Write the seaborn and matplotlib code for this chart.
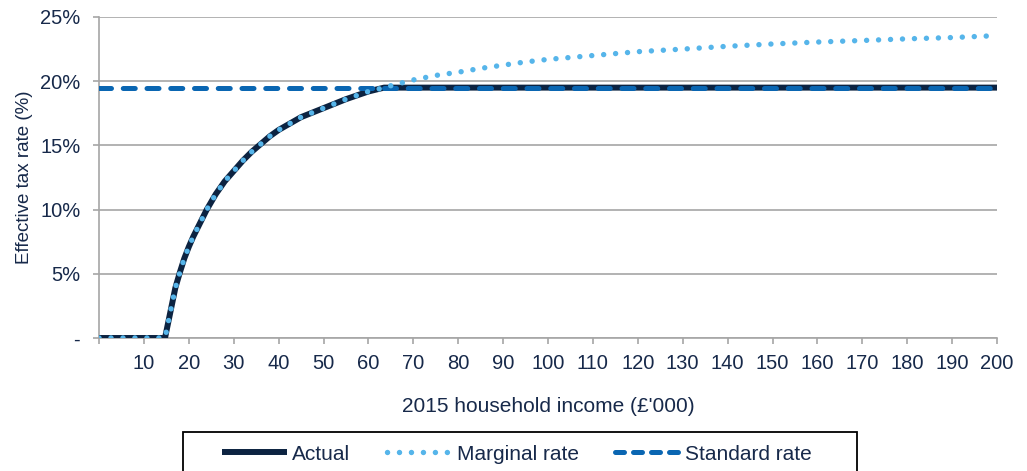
import matplotlib
matplotlib.use("Agg")
import matplotlib.pyplot as plt
from matplotlib.lines import Line2D
from matplotlib.patches import Rectangle
import seaborn as sns
import pandas as pd

# Household income (£'000) at which each rate is given
income = [0, 5, 10, 14.7, 16, 17, 18, 19, 20, 21, 22, 23, 24, 26, 28, 30, 32, 34, 36,
          38, 40, 42, 45, 50, 55, 60, 63.5, 65, 70, 75, 80, 85, 90, 95, 100, 105, 110,
          115, 120, 125, 130, 140, 150, 160, 170, 180, 190, 200]

# Effective tax rate (%) actually paid
actual = [0, 0, 0, 0, 2.2, 3.9, 5.1, 6.2, 7.1, 7.9, 8.6, 9.3, 10.0, 11.2, 12.2, 13.0,
          13.8, 14.5, 15.1, 15.7, 16.2, 16.6, 17.2, 17.9, 18.6, 19.2, 19.5, 19.5, 19.5,
          19.5, 19.5, 19.5, 19.5, 19.5, 19.5, 19.5, 19.5, 19.5, 19.5, 19.5, 19.5, 19.5,
          19.5, 19.5, 19.5, 19.5, 19.5, 19.5]

# Effective tax rate (%) under the marginal-rate schedule
marginal = [0, 0, 0, 0, 2.2, 3.9, 5.1, 6.2, 7.1, 7.9, 8.6, 9.3, 10.0, 11.2, 12.2, 13.0,
            13.8, 14.5, 15.1, 15.7, 16.2, 16.6, 17.2, 17.9, 18.6, 19.2, 19.5, 19.65,
            20.1, 20.45, 20.7, 21.0, 21.25, 21.5, 21.7, 21.85, 22.0, 22.15, 22.3, 22.4,
            22.5, 22.72, 22.9, 23.05, 23.17, 23.3, 23.4, 23.55]

# Flat standard rate (%)
standard = [19.5] * len(income)

series_names = ["Actual", "Marginal rate", "Standard rate"]
x_ticks = list(range(0, 201, 10))
x_tick_labels = [""] + [str(v) for v in range(10, 201, 10)]
y_ticks = [0, 5, 10, 15, 20, 25]
y_tick_labels = ["-", "5%", "10%", "15%", "20%", "25%"]

df = pd.DataFrame({"income": income, "actual": actual,
                   "marginal": marginal, "standard": standard})

sns.set_theme(style="white")
plt.rcParams["font.family"] = ["Liberation Sans", "DejaVu Sans"]

navy = "#0c2341"
light_blue = "#56b5ea"
mid_blue = "#0a66b2"
text_col = "#17294a"
grid_col = "#a6a6a6"

lw_actual, lw_std, lw_marg = 4.3, 3.6, 3.9
dash_std = (0, (2.4, 2.35))
dot_marg = (0, (0.01, 2.2))

fig = plt.figure(figsize=(10.27, 4.71), dpi=100)
ax = fig.add_axes([99 / 1027, 1 - 338 / 471, (997 - 99) / 1027, (338 - 17) / 471])

sns.lineplot(data=df, x="income", y="actual", ax=ax, color=navy, linewidth=lw_actual,
             solid_capstyle="butt", solid_joinstyle="round", zorder=3)
sns.lineplot(data=df, x="income", y="standard", ax=ax, color=mid_blue, linewidth=lw_std,
             linestyle=dash_std, dash_capstyle="round", zorder=4)
sns.lineplot(data=df, x="income", y="marginal", ax=ax, color=light_blue, linewidth=lw_marg,
             linestyle=dot_marg, dash_capstyle="round", zorder=5)

ax.set_xlim(0, 200)
ax.set_ylim(0, 25)
ax.set_xticks(x_ticks)
ax.set_xticklabels(x_tick_labels)
ax.set_yticks(y_ticks)
ax.set_yticklabels(y_tick_labels)

ax.grid(axis="y", color=grid_col, linewidth=1.2)
ax.grid(axis="x", visible=False)
ax.set_axisbelow(True)
for side in ("top", "right"):
    ax.spines[side].set_visible(False)
for side in ("left", "bottom"):
    ax.spines[side].set_color(grid_col)
    ax.spines[side].set_linewidth(1.2)

ax.tick_params(axis="both", which="major", direction="out", length=4.5, width=1.2,
               color=grid_col, labelcolor=text_col, left=True, bottom=True)
ax.tick_params(axis="x", pad=7, labelsize=14.5)
ax.tick_params(axis="y", pad=9, labelsize=14.5)

ax.set_xlabel("2015 household income (£'000)", fontsize=15, color=text_col, labelpad=17)
ax.set_ylabel("Effective tax rate (%)", fontsize=13.5, color=text_col, labelpad=5)

# Legend below the chart, with a black box that runs off the bottom edge
handles = [
    Line2D([], [], color=navy, linewidth=lw_actual, solid_capstyle="butt"),
    Line2D([], [], color=light_blue, linewidth=lw_marg, linestyle=dot_marg,
           dash_capstyle="round"),
    Line2D([], [], color=mid_blue, linewidth=lw_std, linestyle=(0, (1.8, 1.8)),
           dash_capstyle="round"),
]
fig.legend(handles, series_names, loc="center", ncol=3,
           bbox_to_anchor=(517 / 1027, 1 - 454 / 471), frameon=False,
           fontsize=15, handlelength=3.1, handletextpad=0.25, columnspacing=1.75,
           labelcolor=text_col)
fig.patches.append(Rectangle((183 / 1027, -0.05), (857 - 183) / 1027,
                             (471 - 432) / 471 + 0.05, transform=fig.transFigure,
                             fill=False, edgecolor="black", linewidth=1.3))

fig.savefig("out.png", dpi=100)
